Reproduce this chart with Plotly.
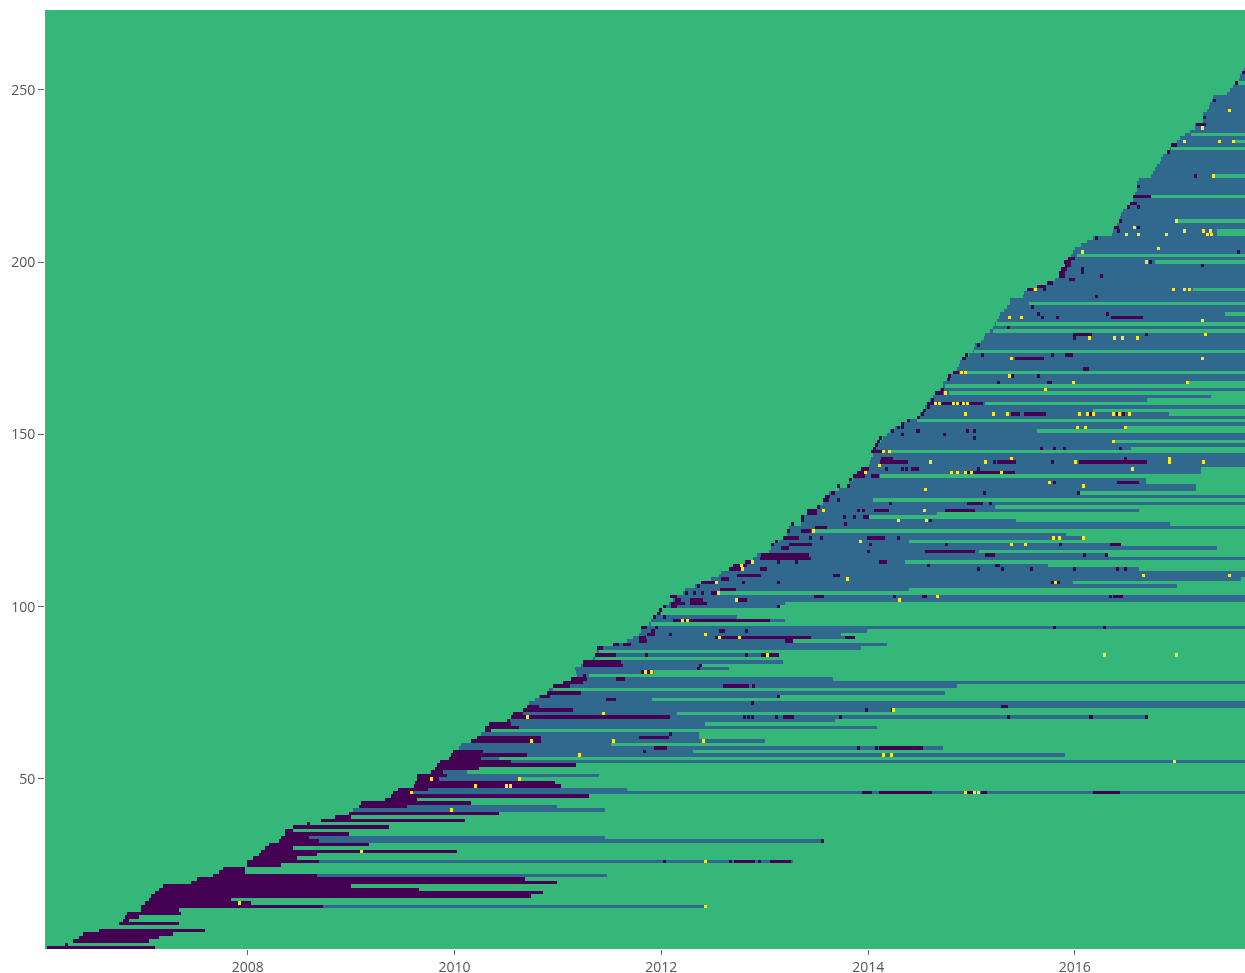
import numpy as np
import pandas as pd
import plotly.graph_objects as go

# Status codes painted into the grid
DARK, BLUE, GREEN, YELLOW = 0, 1, 2, 3
WEEKS = 606
CELLS_PER_WEEK = 2
TOTAL_ROWS = 274
FIRST_DAY = "2006-01-15"
WEEK_DAYS = 7.065

# first active week of rows 1..256
ROW_ONSET = [1,10,14,17,19,27,None,37,39,40,
41,48,48,50,52,53,55,57,59,73,
76,84,87,89,101,101,104,107,108,110,
112,117,118,120,120,124,131,138,145,152,
154,157,158,170,173,174,176.5,184.5,185,186,
186,193,195,196,197.5,202,203,204,207,208,
213,216,218,220,220,222,231,233,234,239,
241,242,245,247,251,252,254,259,263,266,
265.5,265,268,269,274,275,276,276,284,291,
294,297,298,298,302,303,304,306,307,309,
312,314,316,319,320,325,329,333,337,338,
342,346,350,354,356,362,363,364,367,369,
371,372,372,378,378,379,381,385,386,389,
390,390,392,397,401,402,404,407,408,411,
412,412.5,413,414,414,415.5,416,418,419,421,
422.5,425,428.5,431.5,436,437.5,439,440,441,442.5,
444,445,447.5,449,449,451,451.5,454,456,457,
457.5,458.5,462,464,464.5,465,468,469.5,470,472.5,
474,475,476,477,477.5,479.5,481,482.5,482.5,489,
489.5,491,496,501,505,507,507,508,510,509.5,
511.5,513,514,515,518,521,524,533.5,534,534.5,
536,537,537.5,538,539,541,542.5,544,544,545,
546,546,546,547,553,554,555,556,557.5,558,
559,561,562.5,563,566,567.5,570,572.5,575,575,
579,579,579,581,582,582.5,583.5,584,591,592.5,
594,595,597,597.5,598.5,599.5]

# last active week of rows 1..256
ROW_END = [55,11,52,57,64,80,None,67,42,47,
68,67,330,103,93,243,249,187,153,256,
240,281,100,100,118,374,126,136,206,124,
162,389,280,152,124,172,132,210,153,227,
280,256,213,186,272,603,291,258,255,237,
277,211,217,265.5,603,227,510,324,449,283,
360,327,327,223,416,330,395,551,316,424,
603,603,303.5,367,450,254,456,603,394,272,
304.5,342,328,369,275,367,277,408,421,374,
405,398,411,603,303,370,346,308,308,367,
370,603,603,337.5,432,566,514,598,603,603,
547,501.5,430,603,530,467,586,538,432,519,
510.5,384,603,562.5,485.5,412,446,547,475,603,
414,603,517,575.5,575.5,550.5,550.5,417.5,578,578,
603,603,603,603,423,543,603,534,603,603,
496,540,603,436,603,562,524,603,470,551,
583,452,603,450,571,603,603,460,603,603,
603,603,603,464,603,603,603,603,603,474,
603,475,603,603,590,603,603,492,603,603,
603,574,603,603,603,603,603,603,603,555,
603,516,603,603,603,603,603,586,586,603,
603,566,603,603,603,603,603,603,553,603,
603,603,603,603,585,603,603,603,603,603,
603,603,563,603,595,603,573,603,603,603,
603,603,603,603,603,603,603,603,603,603,
603,596,603,603,603,603]

# (row, first week, last week) of the long dark stretches
DARK_SPANS = [(1,1,55),(3,14,52),(4,17,57),(5,19,64),(6,27,80),(8,37,67),(9,39,42),(10,40,47),
(11,41,68),(12,48,67),(13,48,139),(14,50,103),(15,52,93),(16,53,243),(17,55,249),(18,57,187),
(19,59,153),(20,73,256),(21,76,240),(22,84,136),(23,87,100),(24,89,100),(25,101,118),(26,101,137),
(26,345.5,355),(26,362.5,373),(27,104,126),(28,107,136),(29,108,206),(30,110,124),(31,112,162),
(32,117,137),(33,118,132),(34,120,152),(35,120,124),(36,124,172),(38,138,210),(39,145,153),
(40,152,227),(42,157,181),(43,158,213),(44,170,186),(45,173,272),(46,174,183),(46,408.5,413.5),(46,417,443.5),
(46,461,464),(46,468,471),(46,524,537.5),(47,176.5,191.5),(48,184.5,258),(49,185,255),(50,186,197),(51,186,201),
(52,193,199),(53,195,217),(54,196,265.5),(55,197.5,233),(56,202,218),(57,203,241),(58,204,219),
(59,304.5,311),(59,417,439),(61,213,248),(62,216,248),(62,297,312),(64,220,223),(65,220,237),
(66,222,233),(68,233,312.5),(68,369,374.5),(68,522,524),(69,234,239),(70,239,264),(71,241,247),
(71,478,481.5),(73,280.5,285.5),(74,247.5,252.5),(75,251,268),(77,254,262.5),(77,339,352),
(78,259,269),(79,263,271),(79,285.5,290),(81,298,304),(83,269,289),(84,269,288),(86,275,285.5),
(86,358,367),(88,276,279),(89,284,287),(89,289,293),(90,297,301),(90,370,374),(91,297,300.5),
(91,335,383),(91,400,405),(92,301,305),(93,303,305),(93,337,340),(94,298,301),(96,314,362.5),
(100,313,316),(101,313,320),(101,322.5,331),(102,315,318),(102,322.5,329),(102,346,351),
(103,312.5,316),(103,384.5,389.5),(103,438.5,441),(103,534,539),(104,333,337),(105,337.5,345.5),
(107,328,335),(108,338,342),(109,346,358),(109,394,397.5),(111,342,348),(111,357.5,361),
(112,344,351),(112,475,477.5),(113,350,353),(113,417,421),(114,357.5,383),(115,358,382),
(115,470,475),(116,440,465),(117,368,372),(118,372,382),(118,532.5,538),(120,369,377),
(120,411,420),(122,378,383),(123,385,391),(126,409,412),(127,381,386),(128,381,386),
(128,414.5,422),(128,450,465),(130,461,469),(131,389,392),(132,390,392.5),(133,393,395),
(136,536,547),(138,404,410),(138,413,417),(139,406,410),(139,461,485),(140,408,412),
(140,433,437),(142,417.5,431.5),(142,476,485.5),(142,517,551),(143,418,424),(145,413,418.5),
(159,441,469),(156,483,487.5),(156,489.5,500.5),(162,445,449),(165,501,503.5),(168,454,457),
(169,519,522),(172,458.5,460.5),(172,485,499.5),(173,510,514),(179,514,523.5),(184,533,549),
(192,491,494),(193,496,500.5),(195,512,515),(194,501,504),(196,507,510),(197,507,510),(198,508,511),
(199,510,513),(200,509.5,513),(201,511.5,515),(210,534.5,537),(219,544,553),(217,542.5,546),
(234,563,566),(240,575.5,580.5)]

# (row, week) of single dark cells
DARK_DOTS = [(2,10),(26,309),(26,342),(26,344.5),(26,356.5),(32,388),(37,131),(58,299),(59,406),(59,415),
(63,312),(67,231),(68,349),(68,351),(68,353),(68,365),(68,397),(68,481),(68,550),(70,410),(70,423),
(72,353),(74,366),(77,353.5),(80,269),(82,326),(83,327),(86,300),(86,350),(92,312),(93,350),(94,305),
(94,504),(94,529),(97,304),(97,309),(98,306),(99,307),(100,309),(100,366),(103,424),(103,532),
(104,320),(104,324),(104,328),(106,326),(107,348.5),(107,366),(107,503),(107,506),(111,466),(111,478),
(111,492.5),(111,514),(111,535.5),(111,539.5),(112,441),(113,366),(113,375),(115,519),(115,530),
(116,411),(118,363),(118,412),(118,382),(118,450),(118,507),(119,365),(120,382),(120,387.5),(120,426),
(122,371),(124,373),(124,399.5),(125,378),(125,442),(126,378),(126,399),(126,404),(128,406),(128,408.5),
(129,386),(130,422),(130,472),(131,396),(133,469),(133,516),(135,396),(135,401),(136,504),(137,402),
(140,430),(140,420),(140,428),(140,466),(142,474),(142,503),(143,539.5),(146,414),(146,497.5),(146,504),
(146,509),(146,537),(147,415),(148,416),(149,417),(149,464),(150,428),(150,449),(151,423),(151,436),
(151,435.5),(151,460.5),(151,464),(152,426),(152,428),(153,428),(154,431),(155,436),(156,438),(156,522),
(156,535.5),(156,538.5),(157,439),(158,441),(160,443),(163,448),(165,476),(166,451),(167,451.5),
(167,483),(167,496),(173,460),(173,468),(173,503),(173,600),(176,466),(178,514),(179,550),(181,481),
(184,498),(184,505.5),(185,496),(185,530.5),(187,493),(190,525),(192,499),(196,527.5),(197,518),
(198,518),(199,578),(200,552),(203,518),(203,596),(207,525),(209,536),(210,546),(212,537),(216,541),
(216,546),(222,546),(225,574.5),(232,561),(242,579),(247,584),(252,595),(255,598.5)]

# (row, week) of yellow cells
YELLOW_CELLS = [(13,330),(14,97),(26,330),(29,158),(41,203),(46,183),(46,460),(46,464.5),(46,466.5),(48,215),(48,230.5),(48,232.5),
(50,193),(50,237),(55,564.5),(57,267),(57,419),(57,423),(61,243),(61,284),(61,329),(68,241),(69,279),
(70,424),(81,300),(81,303),(86,361),(86,529.5),(86,565.5),(91,337),(91,347),(92,330),(96,318.5),(96,321),
(102,345.5),(102,427),(103,446),(104,336.5),(107,335.5),(108,401),(111,348.5),(112,348),(113,353.5),
(119,407.5),(122,384),(125,426.5),(125,440.5),(128,389),(128,439.5),(134,440),(139,410),(139,453),(139,456),
(139,460),(139,463),(139,478),(140,543.5),(141,417),(142,442.5),(142,470),(142,515),(142,562),(142,579),
(143,483),(143,562),(145,419),(145,422),(136,502),(135,519),(148,534),(120,504),(120,507),(120,519),
(118,483),(118,490),(109,549),(109,592),(107,505),(156,460),(156,474),(156,481),(156,517),(156,521),
(156,524),(156,534),(156,537),(156,542),(152,516),(152,520),(152,540),(159,445),(159,447),(159,454),
(159,456),(159,459),(159,461),(162,450),(163,500),(165,514),(165,571),(167,482),(168,458),(168,460),
(172,483),(172,578.5),(178,522),(178,534.5),(178,538.5),(178,546),(179,580),(183,578.5),(184,482),(184,488),
(192,495),(192,564),(192,569.5),(192,572),(200,550.5),(203,518.5),(204,556.5),(208,540.5),(208,546.5),
(208,560.5),(208,581),(208,583),(209,569.5),(209,579),(209,582.5),(210,544.5),(212,565.5),(225,584),
(235,569.5),(235,587),(235,594),(239,578.5),(244,592)]

grid = np.full((TOTAL_ROWS, WEEKS * CELLS_PER_WEEK), GREEN, dtype=np.int8)


def cell(week):
    return int(np.floor(week * CELLS_PER_WEEK))


for number, (onset, end) in enumerate(zip(ROW_ONSET, ROW_END), start=1):
    if onset is not None:
        grid[number - 1, cell(onset):max(cell(onset) + 1, cell(end))] = BLUE
for row, first, last in DARK_SPANS:
    grid[row - 1, cell(first):max(cell(first) + 1, cell(last))] = DARK
for row, week in DARK_DOTS:
    grid[row - 1, cell(week):cell(week) + 3] = DARK
for row, week in YELLOW_CELLS:
    grid[row - 1, cell(week) - 1:cell(week) + 2] = YELLOW

start = pd.Timestamp(FIRST_DAY)
x_dates = [
    start + pd.Timedelta(days=(i + 0.5) * WEEK_DAYS / CELLS_PER_WEEK)
    for i in range(WEEKS * CELLS_PER_WEEK)
]
y_rows = list(range(1, TOTAL_ROWS + 1))

fig = go.Figure(
    go.Heatmap(
        x=x_dates,
        y=y_rows,
        z=grid.tolist(),
        colorscale="Viridis",
        zmin=0,
        zmax=3,
        showscale=False,
    )
)
fig.update_layout(
    width=1245,
    height=973,
    margin=dict(l=45, r=0, t=10, b=24, autoexpand=False),
    paper_bgcolor="white",
    plot_bgcolor="white",
    font=dict(color="#555555", size=14),
)
fig.update_xaxes(
    type="date",
    range=[start, start + pd.Timedelta(days=600 * WEEK_DAYS)],
    dtick="M24",
    tick0="2008-01-01",
    tickformat="%Y",
    ticks="outside",
    ticklen=5,
    tickcolor="#666666",
    showgrid=False,
    zeroline=False,
    automargin=False,
)
fig.update_yaxes(
    range=[0.65, 273.2],
    dtick=50,
    tick0=0,
    ticks="outside",
    ticklen=6,
    tickcolor="#666666",
    showgrid=False,
    zeroline=False,
    automargin=False,
)
fig.write_html(
    "out.html",
    config={"displayModeBar": False},
    post_script="document.body.style.margin='0';"
    "document.querySelector('.plotly-graph-div').style.filter='blur(0.45px)';",
)
